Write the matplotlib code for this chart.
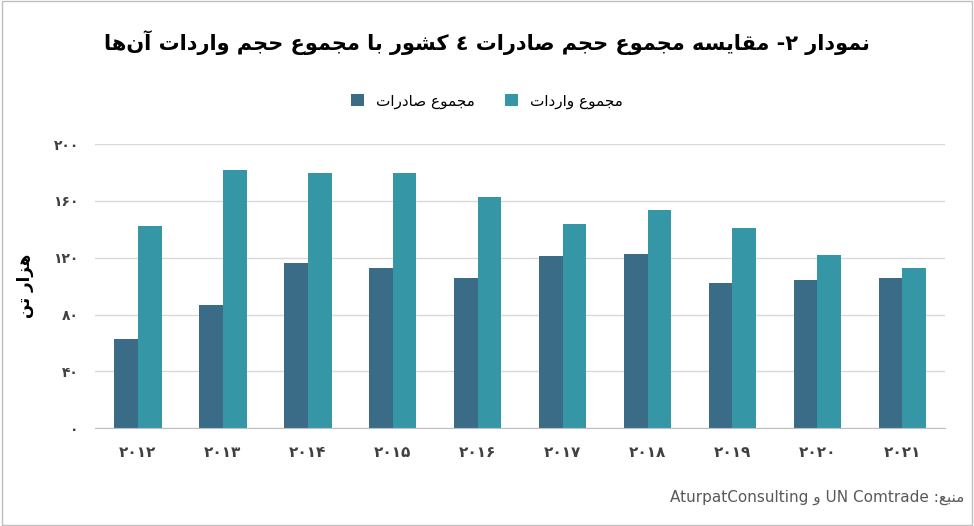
import matplotlib
matplotlib.use("Agg")
import matplotlib.pyplot as plt
import numpy as np

years = ["۲۰۱۲","۲۰۱۳","۲۰۱۴","۲۰۱۵","۲۰۱۶","۲۰۱۷","۲۰۱۸","۲۰۱۹","۲۰۲۰","۲۰۲۱"]
exports = [63, 87, 116, 113, 106, 121, 122.5, 102, 104, 106]
imports = [142, 182, 180, 180, 163, 144, 153.5, 141, 122, 113]
yticks = [0, 40, 80, 120, 160, 200]
ytick_labels = ["۰","۴۰","۸۰","۱۲۰","۱۶۰","۲۰۰"]

FORMS = {
 'ا':('\uFE8D','\uFE8E',None,None),'آ':('\uFE81','\uFE82',None,None),
 'ب':('\uFE8F','\uFE90','\uFE91','\uFE92'),'ت':('\uFE95','\uFE96','\uFE97','\uFE98'),
 'ج':('\uFE9D','\uFE9E','\uFE9F','\uFEA0'),'ح':('\uFEA1','\uFEA2','\uFEA3','\uFEA4'),
 'د':('\uFEA9','\uFEAA',None,None),'ر':('\uFEAD','\uFEAE',None,None),
 'ز':('\uFEAF','\uFEB0',None,None),'س':('\uFEB1','\uFEB2','\uFEB3','\uFEB4'),
 'ش':('\uFEB5','\uFEB6','\uFEB7','\uFEB8'),'ص':('\uFEB9','\uFEBA','\uFEBB','\uFEBC'),
 'ع':('\uFEC9','\uFECA','\uFECB','\uFECC'),'ف':('\uFED1','\uFED2','\uFED3','\uFED4'),
 'ق':('\uFED5','\uFED6','\uFED7','\uFED8'),'ل':('\uFEDD','\uFEDE','\uFEDF','\uFEE0'),
 'م':('\uFEE1','\uFEE2','\uFEE3','\uFEE4'),'ن':('\uFEE5','\uFEE6','\uFEE7','\uFEE8'),
 'ه':('\uFEE9','\uFEEA','\uFEEB','\uFEEC'),'و':('\uFEED','\uFEEE',None,None),
 'ک':('\uFB8E','\uFB8F','\uFB90','\uFB91'),'ی':('\uFBFC','\uFBFD','\uFBFE','\uFBFF'),
}

def dual(c):
    return c in FORMS and FORMS[c][2] is not None

def rtl(s):
    chars = list(s)
    out = []
    for i, c in enumerate(chars):
        if c == '\u200c':
            continue
        if c not in FORMS:
            out.append(c); continue
        prev = chars[i-1] if i > 0 else ''
        nxt = chars[i+1] if i+1 < len(chars) else ''
        jp = dual(prev)
        jn = dual(c) and nxt in FORMS
        iso, fin, ini, med = FORMS[c]
        if jp and jn: out.append(med)
        elif jp: out.append(fin)
        elif jn: out.append(ini)
        else: out.append(iso)
    res = []
    run = ''
    for c in out:
        if c.isdigit():
            run += c
        else:
            if run: res.append(run); run = ''
            res.append(c)
    if run: res.append(run)
    return ''.join(reversed(res))

plt.rcParams['font.family'] = ['DejaVu Sans']
fig = plt.figure(figsize=(9.74, 5.26), dpi=100)
ax = fig.add_axes([0.098, 0.186, 0.872, 0.54])

x = np.arange(len(years))
w = 0.28
c_exp = '#3B6C87'
c_imp = '#3597A5'
b1 = ax.bar(x - w/2, exports, w, color=c_exp, label=rtl('مجموع صادرات'))
b2 = ax.bar(x + w/2, imports, w, color=c_imp, label=rtl('مجموع واردات'))
ax.set_ylim(0, 200)
ax.set_xlim(-0.5, len(years) - 0.5)
ax.set_yticks(yticks)
ax.set_yticklabels(ytick_labels, fontsize=10, fontweight='bold', color='#404040')
ax.set_xticks(x)
ax.set_xticklabels(years, fontsize=11, fontweight='bold', color='#404040')
ax.yaxis.grid(True, color='#D9D9D9', linewidth=1)
ax.set_axisbelow(True)
for s in ['top', 'right', 'left']:
    ax.spines[s].set_visible(False)
ax.spines['bottom'].set_color('#BFBFBF')
ax.tick_params(axis='both', length=0, pad=12)
ax.set_ylabel(rtl('هزار تن'), fontsize=12, fontweight='bold', labelpad=14)

fig.text(0.5, 0.92, rtl('نمودار ۲- مقایسه مجموع حجم صادرات ٤ کشور با مجموع حجم واردات آن\u200cها'),
         ha='center', va='center', fontsize=15, fontweight='bold')
leg = fig.legend(handles=[b1, b2], loc='center', bbox_to_anchor=(0.5, 0.808), ncol=2,
                 frameon=False, fontsize=11, handlelength=0.8, handleheight=0.8, columnspacing=2)
fig.text(0.99, 0.055, 'AturpatConsulting ' + rtl('و') + ' UN Comtrade ' + ':' + rtl('منبع'),
         ha='right', va='center', fontsize=11, color='#595959')
fig.patches.append(plt.Rectangle((0.002, 0.002), 0.996, 0.996, transform=fig.transFigure,
                                 fill=False, edgecolor='#BFBFBF', linewidth=1))
fig.savefig('out.png', dpi=100)
